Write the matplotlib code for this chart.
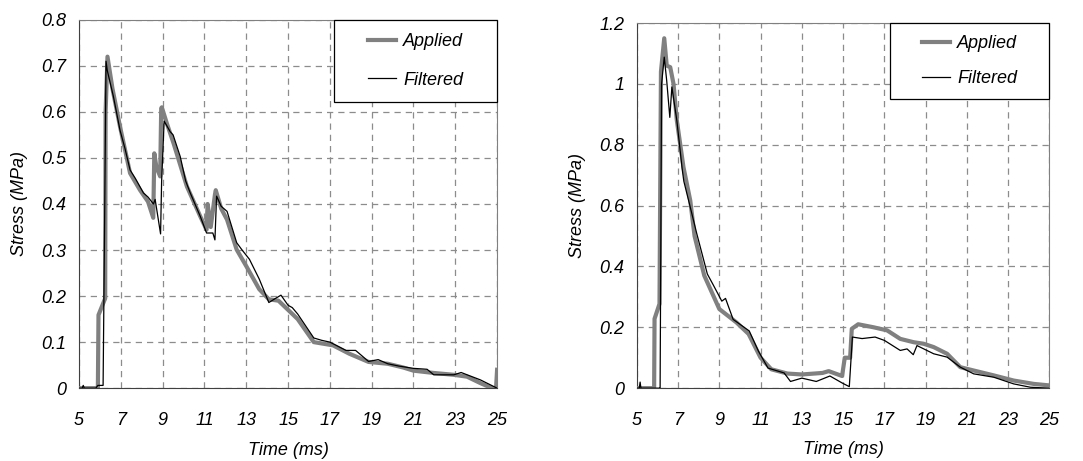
import matplotlib
matplotlib.use('Agg')
import matplotlib.pyplot as plt
from matplotlib.patches import Rectangle

plt.rcParams['font.family'] = ['Liberation Sans', 'DejaVu Sans']
plt.rcParams['font.style'] = 'italic'

# Left panel: applied and filtered stress (MPa) vs time (ms)
t_app_1 = [5.0, 5.9, 5.93, 6.25, 6.27, 6.36, 6.6, 6.96, 7.44, 7.92, 8.3, 8.55, 8.6, 8.7, 8.88,
           8.93, 8.96, 9.2, 9.52, 10.16, 10.8, 11.1, 11.15, 11.3, 11.5, 11.54, 11.8, 12.08,
           12.54, 13.0, 13.62, 14.08, 14.54, 15.0, 15.46, 16.23, 17.15, 17.92, 18.85, 19.77,
           20.5, 21.0, 21.97, 22.93, 23.56, 24.2, 24.76, 24.95, 25.0]
s_app_1 = [0.0, 0.0, 0.159, 0.195, 0.6, 0.72, 0.65, 0.568, 0.467, 0.43, 0.405, 0.37, 0.51, 0.48, 0.46,
           0.608, 0.61, 0.575, 0.532, 0.438, 0.373, 0.344, 0.4, 0.35, 0.42, 0.43, 0.39, 0.366,
           0.301, 0.265, 0.215, 0.193, 0.19, 0.17, 0.15, 0.1, 0.093, 0.075, 0.057, 0.053,
           0.045, 0.038, 0.033, 0.029, 0.025, 0.011, 0.0, 0.0, 0.04]

t_fil_1 = [5.0, 5.15, 5.2, 5.25, 5.8, 5.9, 6.15, 6.21, 6.29, 6.35, 6.64, 6.96, 7.2, 7.44, 7.7, 8.08,
           8.3, 8.56, 8.64, 8.9, 8.95, 9.07, 9.36, 9.5, 9.84, 10.1, 10.32, 10.8, 11.1, 11.4,
           11.5, 11.58, 11.8, 12.08, 12.54, 12.8, 13.15, 13.62, 14.08, 14.4, 14.66, 15.0, 15.2,
           15.46, 16.23, 16.6, 17.0, 17.77, 18.23, 18.85, 19.31, 19.77, 20.3, 21.0, 21.65,
           21.97, 22.93, 23.28, 24.2, 25.0]
s_fil_1 = [0.0, 0.0, 0.006, 0.0, 0.0, 0.006, 0.006, 0.3, 0.71, 0.69, 0.634, 0.56, 0.52, 0.474, 0.455,
           0.424, 0.415, 0.4, 0.41, 0.335, 0.45, 0.58, 0.557, 0.55, 0.503, 0.45, 0.424, 0.373,
           0.337, 0.337, 0.322, 0.417, 0.395, 0.384, 0.316, 0.3, 0.28, 0.237, 0.186, 0.195,
           0.202, 0.18, 0.175, 0.161, 0.109, 0.104, 0.1, 0.082, 0.082, 0.058, 0.062, 0.053,
           0.048, 0.043, 0.041, 0.029, 0.029, 0.034, 0.018, 0.0]

# Right panel
t_app_2 = [5.0, 5.84, 5.86, 6.1, 6.17, 6.33, 6.45, 6.62, 6.78, 6.94, 7.26, 7.59, 7.8, 8.27, 9.0,
           9.83, 10.42, 11.0, 11.52, 12.3, 13.0, 14.0, 14.3, 14.95, 15.08, 15.34, 15.42,
           15.73, 16.48, 17.13, 17.77, 18.42, 18.9, 19.39, 20.04, 20.68, 21.33, 22.3,
           23.27, 24.24, 25.0]
s_app_2 = [0.0, 0.0, 0.228, 0.277, 1.04, 1.15, 1.06, 1.055, 1.0, 0.88, 0.727, 0.617, 0.5, 0.37, 0.26,
           0.216, 0.178, 0.1, 0.062, 0.048, 0.045, 0.05, 0.056, 0.04, 0.1, 0.1, 0.195,
           0.21, 0.2, 0.19, 0.162, 0.151, 0.146, 0.135, 0.113, 0.069, 0.058, 0.042,
           0.025, 0.014, 0.009]

t_fil_2 = [5.0, 5.12, 5.16, 5.2, 6.1, 6.13, 6.2, 6.33, 6.45, 6.6, 6.7, 6.94, 7.2, 7.28, 7.59,
           7.91, 8.42, 8.7, 9.12, 9.3, 9.67, 10.45, 10.9, 11.36, 12.14, 12.45, 13.0, 13.7,
           14.36, 14.98, 15.3, 15.45, 15.92, 16.55, 17.0, 17.77, 18.1, 18.4, 18.58, 19.39,
           20.04, 20.68, 21.33, 22.3, 23.27, 24.08, 25.0]
s_fil_2 = [0.0, 0.0, 0.02, 0.0, 0.0, 0.0, 1.0, 1.088, 1.01, 0.89, 0.99, 0.88, 0.72, 0.68, 0.595,
           0.507, 0.375, 0.34, 0.286, 0.295, 0.226, 0.188, 0.121, 0.066, 0.05, 0.022, 0.033,
           0.022, 0.04, 0.016, 0.005, 0.168, 0.163, 0.168, 0.157, 0.124, 0.129, 0.11, 0.14,
           0.113, 0.102, 0.069, 0.047, 0.036, 0.014, 0.003, 0.0]

x_ticks = list(range(5, 26, 2))

fig = plt.figure(figsize=(10.83, 4.61), dpi=100)
ax1 = fig.add_axes([0.073, 0.158, 0.386, 0.799])
ax2 = fig.add_axes([0.588, 0.158, 0.381, 0.792])


def style(ax, t_app, s_app, t_fil, s_fil, ymax, ystep, yfmt, box, spacing, ylab_x):
    ax.plot(t_app, s_app, color='#808080', lw=3.0, label='Applied', zorder=3)
    ax.plot(t_fil, s_fil, color='black', lw=0.9, label='Filtered', zorder=4)
    ax.set_xlim(5, 25)
    ax.set_ylim(0, ymax)
    ax.set_xticks(x_ticks)
    yt = [i * ystep for i in range(int(round(ymax / ystep)) + 1)]
    ax.set_yticks(yt)
    ax.set_yticklabels([yfmt(v) for v in yt])
    ax.grid(True, color='#8c8c8c', lw=0.9, linestyle=(0, (5, 4)))
    ax.tick_params(length=0, labelsize=13)
    ax.tick_params(axis='x', pad=17)
    ax.tick_params(axis='y', pad=9)
    for side in ['top', 'right']:
        ax.spines[side].set_color('#808080')
    for side in ['left', 'bottom']:
        ax.spines[side].set_color('#404040')
    ax.set_xlabel('Time (ms)', fontsize=13)
    ax.set_ylabel('Stress (MPa)', fontsize=13)
    ax.xaxis.set_label_coords(0.5, -0.145)
    ax.yaxis.set_label_coords(ylab_x, 0.5)
    # legend box (Excel style), drawn as a frame with the legend centred in it
    x0, y0, x1, y1 = box
    ax.add_patch(Rectangle((x0, y0), x1 - x0, y1 - y0, transform=ax.transAxes,
                           facecolor='white', edgecolor='black', lw=0.9,
                           zorder=5, clip_on=False))
    leg = ax.legend(loc='center', bbox_to_anchor=((x0 + x1) / 2, (y0 + y1) / 2),
                    fontsize=13, frameon=False, borderpad=0, handlelength=1.55,
                    labelspacing=spacing, handletextpad=0.4)
    leg.set_zorder(6)


def fmt1(v):
    return '0' if abs(v) < 1e-9 else f'{v:.1f}'


def fmt2(v):
    if abs(v) < 1e-9:
        return '0'
    if abs(v - round(v)) < 1e-9:
        return f'{int(round(v))}'
    return f'{v:.1f}'


style(ax1, t_app_1, s_app_1, t_fil_1, s_fil_1, 0.8, 0.1, fmt1,
      (0.610, 0.777, 1.0, 1.0), 1.2, -0.122)
style(ax2, t_app_2, s_app_2, t_fil_2, s_fil_2, 1.2, 0.2, fmt2,
      (0.614, 0.792, 0.998, 1.0), 1.0, -0.124)

fig.savefig('out.png', dpi=100)
